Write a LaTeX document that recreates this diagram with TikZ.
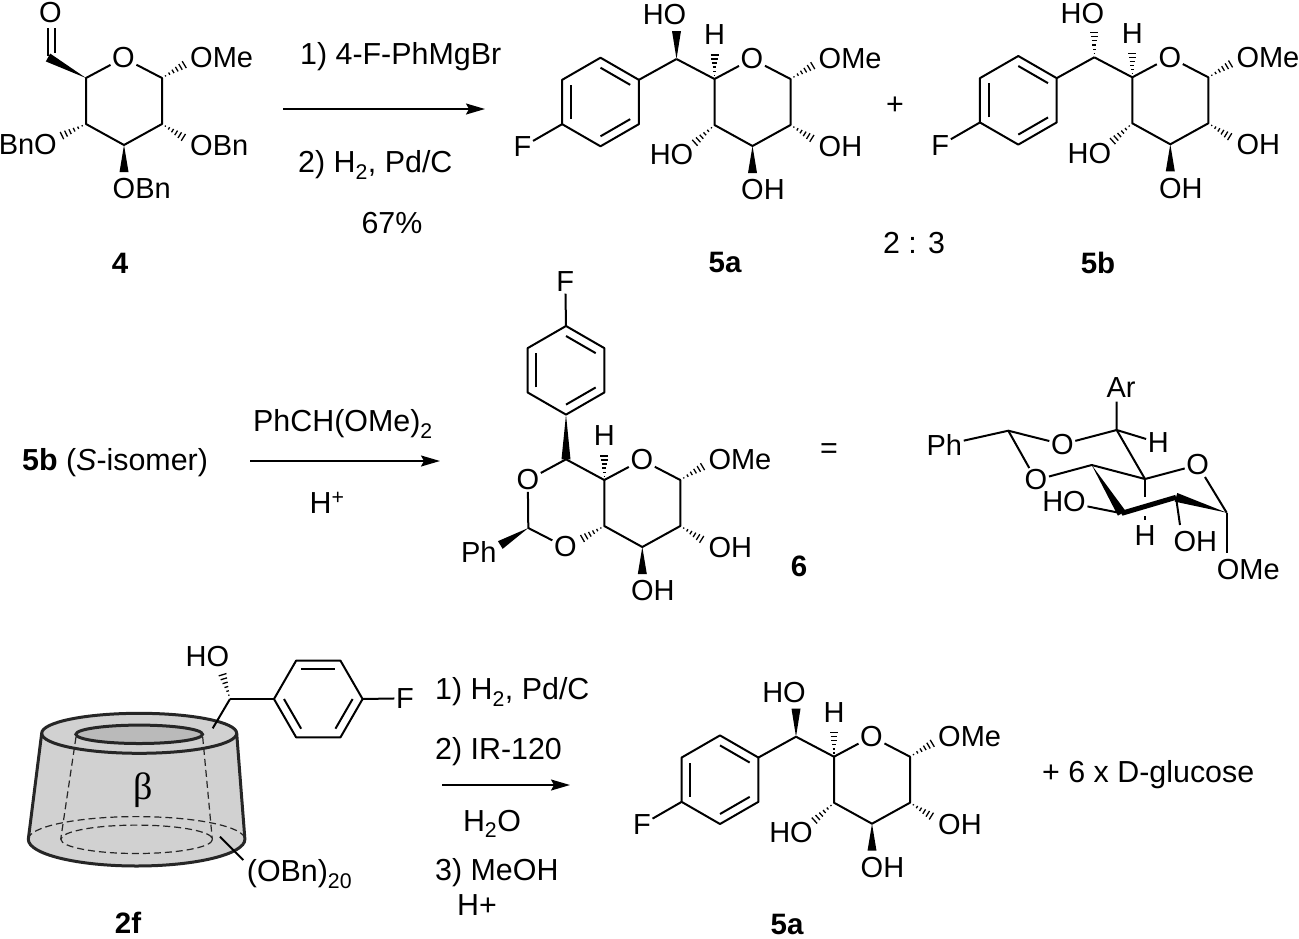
\documentclass[tikz,border=0pt]{standalone}
\usepackage{fontspec}
\setmainfont{Liberation Sans}
\newfontfamily\greekfont{Liberation Serif}
\usetikzlibrary{arrows.meta,calc,positioning}

\newcommand{\wedgebond}[2]{\fill[black] (#1) -- ($(#2)!4.5pt!90:(#1)$) -- ($(#2)!4.5pt!-90:(#1)$) -- cycle;}
\newcommand{\hashbond}[2]{%
    \foreach \pos in {0.14,0.29,0.44,0.59,0.74,0.89,1.0} {
        \coordinate (hm) at ($(#1)!\pos!(#2)$);
        \draw[hash] ($(hm)!\pos*4.5pt!90:(#2)$) -- ($(hm)!\pos*4.5pt!-90:(#2)$);
    }}
\newcommand{\benzene}[1]{%
    \foreach \i in {0,...,5} {
        \coordinate (b\i) at (#1+60*\i:44.3);
        \coordinate (n\i) at (#1+60*\i:34.3);
    }
    \draw[bond] (b0) -- (b1) -- (b2) -- (b3) -- (b4) -- (b5) -- cycle;
    \draw[bond] (n0) -- (n1);
    \draw[bond] (n2) -- (n3);
    \draw[bond] (n4) -- (n5);
}
\newcommand{\sugarring}[1]{%
    \coordinate (c5) at (0,0);
    \node (o5) at (37.5,-20) {O};
    \coordinate (c1) at (76,0);
    \coordinate (c2) at (76,46);
    \coordinate (c3) at (38,67);
    \coordinate (c4) at (0,46);
    \draw[bond] (o5) -- (c5) -- (c4) -- (c3) -- (c2) -- (c1) -- (o5);
    \coordinate (e1) at (101,-15);
    \hashbond{c1}{e1}
    \node[anchor=west] (ome) at (102.5,-20) {OMe};
    \coordinate (e2) at (100,61);
    \hashbond{c2}{e2}
    \node[anchor=west] (r2) at (102.5,67.5) {#1};
    \coordinate (e3) at (38,94);
    \wedgebond{c3}{e3}
    \node[anchor=west] (r3) at (25,111) {#1};
}
\newcommand{\sugararm}[1]{%
    \coordinate (ca) at (-38,-20);
    \draw[bond] (c5) -- (ca);
    \coordinate (e4) at (-22,66);
    \hashbond{c4}{e4}
    \node[anchor=east] (r4) at (-19.5,76) {HO};
    \coordinate (e5) at (0,-27);
    \hashbond{c5}{e5}
    \node (h5) at (0,-44) {H};
    \coordinate (e6) at (-38,-48);
    #1{ca}{e6}
    \node[anchor=east] (r6) at (-26.5,-64) {HO};
    \begin{scope}[shift={(-114,23)}]
        \benzene{30}
    \end{scope}
    \draw[bond] (ca) -- (b5);
    \node (fl) at (-192,68) {F};
    \draw[bond] (b2) -- (fl);
}

\begin{document}
\begin{tikzpicture}[x=1pt,y=-1pt]
    \tikzset{every node/.style={inner sep=1.5pt, font=\fontsize{29}{31}\selectfont},
        reagent/.style={font=\fontsize{30.4}{32}\selectfont},
        bond/.style={line width=2pt, line join=round},
        hash/.style={line width=1.3pt},
        boldbond/.style={line width=5pt, line join=round},
        reaction/.style={line width=1.7pt, -{Stealth[length=19pt,width=11pt,inset=3pt]}},
        compound/.style={font=\fontsize{29.5}{31}\selectfont\bfseries},
        rim/.style={line width=3pt, draw=black!85},
        ghost/.style={line width=1.2pt, dash pattern=on 7pt off 4pt, draw=black!85}}
    \useasboundingbox (0,0) rectangle (1299,938);

    % first row
    \begin{scope}[shift={(86,78)}, name prefix=glu-]
        \sugarring{OBn}
        \coordinate (cho) at (-38,-20.5);
        \wedgebond{c5}{cho}
        \node (oxo) at (-35.5,-65) {O};
        \coordinate (da) at (-38,-22);
        \coordinate (db) at (-38,-50);
        \coordinate (dc) at (-31,-25);
        \coordinate (dd) at (-31,-50);
        \draw[bond] (da) -- (db);
        \draw[bond] (dc) -- (dd);
        \coordinate (e4) at (-27,59);
        \hashbond{c4}{e4}
        \node[anchor=east] (r4) at (-27.5,67) {BnO};
    \end{scope}
    \node[compound] (lab4) at (120,263) {4};
    \node[reagent, anchor=west] (rg1) at (298.5,57) {1) 4-F-PhMgBr};
    \node[reagent, anchor=west] (rg2) at (296.5,165) {2) H\textsubscript{2}, Pd/C};
    \node[reagent] (yld) at (392,223) {67\%};
    \coordinate (ar1a) at (283,109);
    \coordinate (ar1b) at (485,109);
    \draw[reaction] (ar1a) -- (ar1b);

    \begin{scope}[shift={(714.5,79)}, name prefix=fa-]
        \sugarring{OH}
        \sugararm{\wedgebond}
    \end{scope}
    \node[compound] (lab5a) at (725,262) {5a};
    \node[reagent] (plus) at (895,106) {+};
    \node[reagent] (ratio) at (914,243) {2 : 3};
    \begin{scope}[shift={(1132.3,77.3)}, name prefix=fb-]
        \sugarring{OH}
        \sugararm{\hashbond}
    \end{scope}
    \node[compound] (lab5b) at (1098,263) {5b};

    % second row
    \node[reagent, anchor=west] (start) at (20.5,463) {\textbf{5b} (\textit{S}-isomer)};
    \node[reagent, anchor=west] (rg3) at (251.5,424) {PhCH(OMe)\textsubscript{2}};
    \node[reagent] (rg4) at (327,503) {H\textsuperscript{+}};
    \coordinate (ar2a) at (250,461);
    \coordinate (ar2b) at (440,461);
    \draw[reaction] (ar2a) -- (ar2b);

    \begin{scope}[shift={(604.3,480)}, name prefix=ace-]
        \sugarring{OH}
        \coordinate (e5) at (0,-27);
        \hashbond{c5}{e5}
        \node (h5) at (0,-44) {H};
        \coordinate (ca) at (-38.3,-20.7);
        \begin{scope}[shift={(-38.3,-109.7)}]
            \benzene{30}
        \end{scope}
        \wedgebond{b1}{ca}
        \node (fl) at (-39,-198) {F};
        \draw[bond] (b4) -- (fl);
        \node (o6) at (-76.5,0) {O};
        \node (o4) at (-39,67) {O};
        \coordinate (cp) at (-76,48);
        \draw[bond] (c5) -- (ca) -- (o6) -- (cp) -- (o4);
        \coordinate (e4) at (-24.5,60);
        \hashbond{c4}{e4}
        \coordinate (e7) at (-104,65);
        \wedgebond{cp}{e7}
        \node[anchor=east] (ph) at (-106,71.7) {Ph};
    \end{scope}
    \node[compound] (lab6) at (799,566) {6};
    \node[reagent] (eq) at (829,451) {=};

    \begin{scope}[name prefix=ch-]
        \node (ar) at (1121,387.3) {Ar};
        \coordinate (ca) at (1116.7,430);
        \coordinate (ta) at (1116.7,401.7);
        \node (hh) at (1158.3,442.7) {H};
        \node (oa) at (1062.3,444.3) {O};
        \coordinate (cp) at (1008.3,430.7);
        \node (ph) at (944.3,445) {Ph};
        \node (ob) at (1036,480) {O};
        \coordinate (c4) at (1091.7,465);
        \coordinate (c5) at (1145,479);
        \node (oc) at (1197.7,465) {O};
        \coordinate (c1) at (1226.7,512.7);
        \coordinate (c2) at (1176,497.3);
        \coordinate (c3) at (1121.7,513.3);
        \draw[bond] (ta) -- (ca) -- (hh);
        \draw[bond] (ca) -- (oa) -- (cp) -- (ph);
        \draw[bond] (cp) -- (ob) -- (c4) -- (c5) -- (oc) -- (c1);
        \draw[bond] (ca) -- (c5);
        \coordinate (up) at (1145,497);
        \coordinate (lo) at (1145,516);
        \coordinate (ld) at (1145,519.5);
        \draw[bond] (c5) -- (up);
        \draw[bond] (lo) -- (ld);
        \node (hb) at (1145,535.7) {H};
        \wedgebond{c4}{c3}
        \wedgebond{c1}{c2}
        \draw[boldbond] (c3) -- (c2);
        \node[anchor=east] (ho) at (1087.5,501.7) {HO};
        \draw[bond] (c3) -- (ho);
        \coordinate (t2) at (1180,525);
        \draw[bond] (c2) -- (t2);
        \node[anchor=west] (oh) at (1171.8,541.7) {OH};
        \coordinate (t1) at (1226.7,552.7);
        \draw[bond] (c1) -- (t1);
        \node[anchor=west] (me) at (1215.2,570) {OMe};
    \end{scope}

    % third row
    \fill[black!18] (41.7,733.3) -- (28.3,839.3) arc[start angle=180, end angle=0, x radius=108.3, y radius=26.7] -- (236.7,733.3) -- cycle;
    \filldraw[fill=black!18, rim] (139.2,733.3) ellipse[x radius=97.5, y radius=20];
    \filldraw[fill=black!27, rim] (139.2,734.3) ellipse[x radius=63.3, y radius=9.2];
    \draw[rim] (41.7,733.3) -- (28.3,839.3) arc[start angle=180, end angle=0, x radius=108.3, y radius=26.7] -- (236.7,733.3);
    \draw[ghost] (28.3,839.3) arc[start angle=180, end angle=360, x radius=108.3, y radius=22.7];
    \draw[ghost] (136.7,839.3) ellipse[x radius=75.8, y radius=14.2];
    \draw[ghost] (76,737) -- (60.7,839.3);
    \draw[ghost] (202.7,737) -- (212.3,839.3);
    \node (beta) at (142.7,790) {\fontsize{38}{40}\selectfont\greekfont β};

    \begin{scope}[name prefix=cd-]
        \coordinate (ca) at (230,699);
        \coordinate (rim) at (212.7,728.3);
        \draw[bond] (rim) -- (ca);
        \coordinate (e6) at (221.7,671.7);
        \hashbond{ca}{e6}
        \node[anchor=east] (ho) at (230.8,656.7) {HO};
        \begin{scope}[shift={(318.3,699)}]
            \benzene{0}
        \end{scope}
        \draw[bond] (ca) -- (b3);
        \node (fl) at (405,698.3) {F};
        \draw[bond] (b0) -- (fl);
        \coordinate (ta) at (220,836.7);
        \coordinate (tb) at (243.3,860);
        \draw[bond] (ta) -- (tb);
        \node[reagent, anchor=west] (obn) at (245.2,874) {(OBn)\textsubscript{20}};
    \end{scope}
    \node[compound] (lab2f) at (128,923) {2f};

    \node[reagent, anchor=west] (rg5) at (433.5,692) {1) H\textsubscript{2}, Pd/C};
    \node[reagent, anchor=west] (rg6) at (433.5,752) {2) IR-120};
    \node[reagent] (rg7) at (492,824) {H\textsubscript{2}O};
    \node[reagent, anchor=west] (rg8) at (433.5,873) {3) MeOH};
    \node[reagent] (rg9) at (477,905) {H+};
    \coordinate (ar3a) at (442,785);
    \coordinate (ar3b) at (570,785);
    \draw[reaction] (ar3a) -- (ar3b);

    \begin{scope}[shift={(834,756.7)}, name prefix=fc-]
        \sugarring{OH}
        \sugararm{\wedgebond}
    \end{scope}
    \node[compound] (lab5c) at (787,924) {5a};
    \node[reagent, anchor=west] (glc) at (1040.5,775) {+ 6 x D-glucose};
\end{tikzpicture}
\end{document}
